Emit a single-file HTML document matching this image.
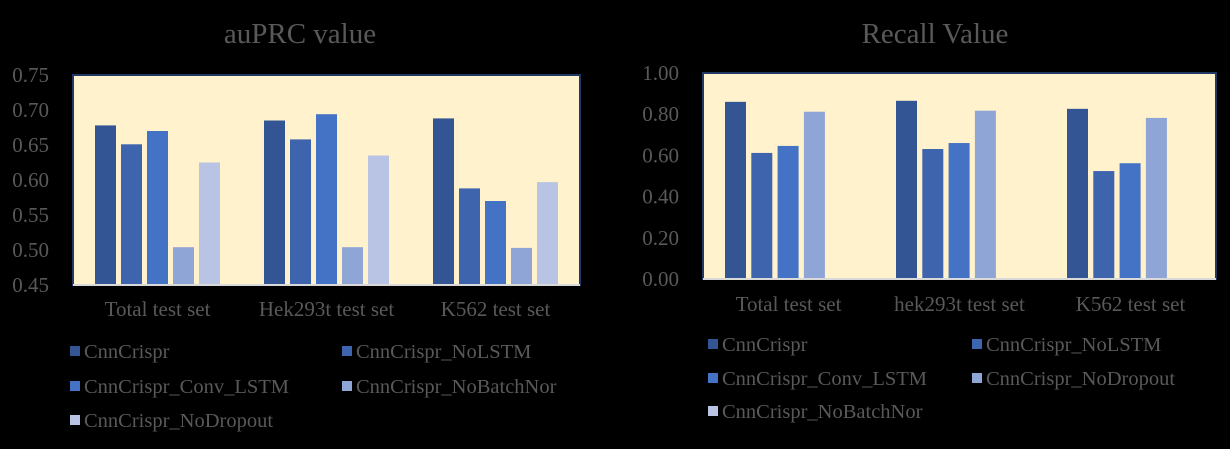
<!DOCTYPE html>
<html><head><meta charset="utf-8"><style>
body{margin:0;background:#000;width:1230px;height:449px;overflow:hidden}
svg{display:block}
text{font-family:"Liberation Serif",serif;fill:#595959}
</style></head><body>
<svg id="s" width="1230" height="449">
<rect width="1230" height="449" fill="#000"/>
</svg>
<script>
const leftCategories=["Total test set","Hek293t test set","K562 test set"];
const leftTicks=["0.45","0.50","0.55","0.60","0.65","0.70","0.75"];
const leftCnnCrispr=[0.678,0.685,0.688];
const leftNoLSTM=[0.651,0.658,0.588];
const leftConvLSTM=[0.670,0.694,0.570];
const leftNoBatchNor=[0.504,0.504,0.503];
const leftNoDropout=[0.625,0.635,0.597];
const leftNames=["CnnCrispr","CnnCrispr_NoLSTM","CnnCrispr_Conv_LSTM","CnnCrispr_NoBatchNor","CnnCrispr_NoDropout"];

const rightCategories=["Total test set","hek293t test set","K562 test set"];
const rightTicks=["0.00","0.20","0.40","0.60","0.80","1.00"];
const rightCnnCrispr=[0.860,0.865,0.826];
const rightNoLSTM=[0.612,0.631,0.524];
const rightConvLSTM=[0.646,0.660,0.562];
const rightNoDropout=[0.812,0.817,0.782];
const rightNoBatchNor=[null,null,null];
const rightNames=["CnnCrispr","CnnCrispr_NoLSTM","CnnCrispr_Conv_LSTM","CnnCrispr_NoDropout","CnnCrispr_NoBatchNor"];

const colors=["#335593","#3d64ad","#4472c4","#8fa5d6","#b9c4e5"];
const svg=document.getElementById('s');
const NS="http://www.w3.org/2000/svg";
function mk(tag,attrs,parent){const e=document.createElementNS(NS,tag);for(const k in attrs)e.setAttribute(k,attrs[k]);(parent||svg).appendChild(e);return e;}

function chart(o){
  const g=mk('g',{});
  
  
  const t=mk('text',{x:o.titleX,y:43,'font-size':29,'text-anchor':'middle'},g);t.textContent=o.title;
  
  
  const bg=mk('rect',{x:o.x0,y:o.y0,width:o.x1-o.x0,height:o.y1-o.y0,fill:'#fff2cc',stroke:'#1f3864','stroke-width':2},g);
  
  
  const ys=v=>o.y1-(v-o.min)/(o.max-o.min)*(o.y1-o.y0);
  o.ticks.forEach(tk=>{
    const tx=mk('text',{x:o.x0-24,y:ys(parseFloat(tk))+7,'font-size':21,'text-anchor':'end'},g);tx.textContent=tk;
    
    
  });
  const bw=(o.x1-o.x0)/o.cats.length;
  o.series.forEach((ser,si)=>{
    ser.forEach((v,ci)=>{
      if(v==null)return;
      const x=o.x0+ci*bw+o.off+si*o.step;
      const r=mk('rect',{x:x,y:ys(v),width:o.bar,height:o.y1-ys(v),fill:colors[si]},g);
      
      
    });
  });
  mk('line',{x1:o.x0,x2:o.x1,y1:o.y1,y2:o.y1,stroke:'#d9d9d9','stroke-width':2},g);
  o.cats.forEach((c,ci)=>{
    const tx=mk('text',{x:o.x0+bw/2+ci*bw,y:o.catY,'font-size':21,'text-anchor':'middle'},g);tx.textContent=c;
    
    
  });
  o.names.forEach((n,i)=>{
    const col=i%2,row=Math.floor(i/2);
    const lx=o.legX[col],ly=o.legY[row];
    const e=mk('g',{},g);
    
    
    mk('rect',{x:lx,y:ly-5,width:10,height:10,fill:colors[o.legColor[i]]},e);
    const tx=mk('text',{x:lx+14,y:ly+7,'font-size':20.5},e);tx.textContent=n;
  });
}
chart({key:'auprc',title:'auPRC value',titleX:300,x0:73,x1:580,y0:75,y1:285,min:0.45,max:0.75,ticks:leftTicks,cats:leftCategories,
  series:[leftCnnCrispr,leftNoLSTM,leftConvLSTM,leftNoBatchNor,leftNoDropout],off:22,step:26,bar:21,catY:316,
  names:leftNames,legColor:[0,1,2,3,4],legX:[70,342],legY:[351,386,420]});
chart({key:'recall',title:'Recall Value',titleX:935,x0:703,x1:1216,y0:73,y1:279,min:0,max:1,ticks:rightTicks,cats:rightCategories,
  series:[rightCnnCrispr,rightNoLSTM,rightConvLSTM,rightNoDropout,rightNoBatchNor],off:22,step:26.3,bar:21,catY:311,
  names:rightNames,legColor:[0,1,2,3,4],legX:[708,972],legY:[344,378,411]});
</script>
</body></html>
